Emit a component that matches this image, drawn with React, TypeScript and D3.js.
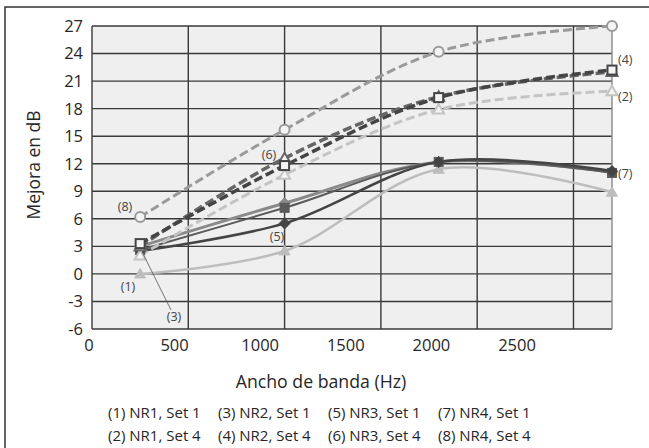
import * as d3 from "d3";

const bandwidths = [250, 1000, 1800, 2700];
const yTicks = [-6, -3, 0, 3, 6, 9, 12, 15, 18, 21, 24, 27];
const xTicks = [0, 500, 1000, 1500, 2000, 2500];

const nr1Set1 = [0.0, 2.5, 11.4, 8.9];
const nr1Set4 = [2.0, 10.8, 17.9, 19.9];
const nr2Set1 = [2.6, 7.2, 12.2, 11.0];
const nr2Set4 = [3.3, 11.8, 19.2, 22.2];
const nr3Set1 = [2.5, 5.5, 12.2, 11.2];
const nr3Set4 = [3.0, 12.6, 19.3, 22.0];
const nr4Set1 = [3.0, 7.7, 12.2, 11.1];
const nr4Set4 = [6.2, 15.7, 24.2, 27.0];

const legendRow1 = ["(1) NR1, Set 1", "(3) NR2, Set 1", "(5) NR3, Set 1", "(7) NR4, Set 1"];
const legendRow2 = ["(2) NR1, Set 4", "(4) NR2, Set 4", "(6) NR3, Set 4", "(8) NR4, Set 4"];

type Marker = "circle" | "square" | "triangle" | "diamond";

type Series = {
  id: string;
  values: number[];
  color: string;
  dashed: boolean;
  width: number;
  marker: Marker;
  open: boolean;
};

const series: Series[] = [
  { id: "1", values: nr1Set1, color: "#bdbdbd", dashed: false, width: 2.5, marker: "triangle", open: false },
  { id: "7", values: nr4Set1, color: "#8a8a8a", dashed: false, width: 3, marker: "diamond", open: false },
  { id: "3", values: nr2Set1, color: "#5a5a5a", dashed: false, width: 2, marker: "square", open: false },
  { id: "5", values: nr3Set1, color: "#444", dashed: false, width: 2.5, marker: "diamond", open: false },
  { id: "2", values: nr1Set4, color: "#c4c4c4", dashed: true, width: 3, marker: "triangle", open: true },
  { id: "6", values: nr3Set4, color: "#666", dashed: true, width: 3.5, marker: "triangle", open: true },
  { id: "4", values: nr2Set4, color: "#444", dashed: true, width: 3.5, marker: "square", open: true },
  { id: "8", values: nr4Set4, color: "#9a9a9a", dashed: true, width: 3, marker: "circle", open: true },
];

const PLOT = { left: 92, right: 612, top: 26, bottom: 329 };
const FONT = "'Open Sans', 'DejaVu Sans', sans-serif";
const INK = "#262626";

function MarkerShape({ type, x, y, color, open }: { type: Marker; x: number; y: number; color: string; open: boolean }) {
  const fill = open ? "#f4f4f4" : color;
  const sw = open ? 2 : 1;
  if (type === "circle") return <circle cx={x} cy={y} r={5} fill={fill} stroke={color} strokeWidth={sw} />;
  if (type === "square") return <rect x={x - 4.5} y={y - 4.5} width={9} height={9} fill={fill} stroke={color} strokeWidth={sw} />;
  if (type === "triangle")
    return <path d={`M${x},${y - 5.5}L${x + 5.5},${y + 4}L${x - 5.5},${y + 4}Z`} fill={fill} stroke={color} strokeWidth={sw} />;
  return <path d={`M${x},${y - 5.5}L${x + 5.5},${y}L${x},${y + 5.5}L${x - 5.5},${y}Z`} fill={fill} stroke={color} strokeWidth={sw} />;
}

export default function App() {
  const x = d3.scaleLinear().domain([0, 2700]).range([PLOT.left, PLOT.right]);
  // tick labels sit offset from the gridlines in the source figure
  const xLabel = d3.scaleLinear().domain([0, 2500]).range([89, 517]);
  const y = d3.scaleLinear().domain([-6, 27]).range([PLOT.bottom, PLOT.top]);
  const line = d3
    .line<number>()
    .x((_, i) => x(bandwidths[i]))
    .y((v) => y(v))
    .curve(d3.curveCatmullRom.alpha(0.5));

  const gridX = [0, 500, 1000, 1500, 2000, 2500, 2700];

  return (
    <svg width={649} height={448} style={{ position: "absolute", left: 0, top: 0, background: "#fff" }} fontFamily={FONT}>
      <rect x={5} y={7} width={660} height={460} fill="#fff" stroke="#333" strokeWidth={1.5} />
      <rect x={PLOT.left} y={PLOT.top} width={PLOT.right - PLOT.left} height={PLOT.bottom - PLOT.top} fill="#efefef" />
      {yTicks.map((t) => (
        <line key={`h${t}`} x1={PLOT.left} x2={PLOT.right} y1={y(t)} y2={y(t)} stroke="#3a3a3a" strokeWidth={1.4} />
      ))}
      {gridX.map((t) => (
        <line
          key={`v${t}`}
          x1={x(t)}
          x2={x(t)}
          y1={PLOT.top}
          y2={PLOT.bottom}
          stroke={t === 2700 ? "#888" : "#3a3a3a"}
          strokeWidth={1.4}
        />
      ))}
      {yTicks.map((t) => (
        <text key={`yl${t}`} x={83} y={y(t)} dy="0.36em" textAnchor="end" fontSize={16.5} fill={INK}>
          {t}
        </text>
      ))}
      {xTicks.map((t) => (
        <text key={`xl${t}`} x={xLabel(t)} y={351} textAnchor="middle" fontSize={16.5} fill={INK}>
          {t}
        </text>
      ))}
      <text x={321} y={388} textAnchor="middle" fontSize={17.7} fill={INK}>
        Ancho de banda (Hz)
      </text>
      <text transform="translate(40 165) rotate(-90)" textAnchor="middle" fontSize={17.5} fill={INK}>
        Mejora en dB
      </text>

      {series.map((s) => (
        <path
          key={`l${s.id}`}
          d={line(s.values) ?? undefined}
          fill="none"
          stroke={s.color}
          strokeWidth={s.width}
          strokeDasharray={s.dashed ? "9 4" : undefined}
        />
      ))}
      {series.map((s) =>
        s.values.map((v, i) => (
          <MarkerShape key={`m${s.id}-${i}`} type={s.marker} x={x(bandwidths[i])} y={y(v)} color={s.color} open={s.open} />
        ))
      )}

      <g fontSize={12.5} fill="#444">
        <text x={125} y={211} textAnchor="middle">(8)</text>
        <text x={269} y={159} textAnchor="middle">(6)</text>
        <text x={277} y={241} textAnchor="middle">(5)</text>
        <text x={128} y={291} textAnchor="middle">(1)</text>
        <text x={174} y={321} textAnchor="middle">(3)</text>
        <text x={618} y={64}>(4)</text>
        <text x={618} y={101}>(2)</text>
        <text x={618} y={178}>(7)</text>
      </g>
      <line x1={x(250) + 2} y1={y(nr2Set1[0]) + 2} x2={171} y2={310} stroke="#555" strokeWidth={0.8} />

      <g fontSize={15} fill={INK}>
        {legendRow1.map((t, i) => (
          <text key={`a${i}`} x={108 + i * 110} y={418}>
            {t}
          </text>
        ))}
        {legendRow2.map((t, i) => (
          <text key={`b${i}`} x={108 + i * 110} y={441}>
            {t}
          </text>
        ))}
      </g>
    </svg>
  );
}
